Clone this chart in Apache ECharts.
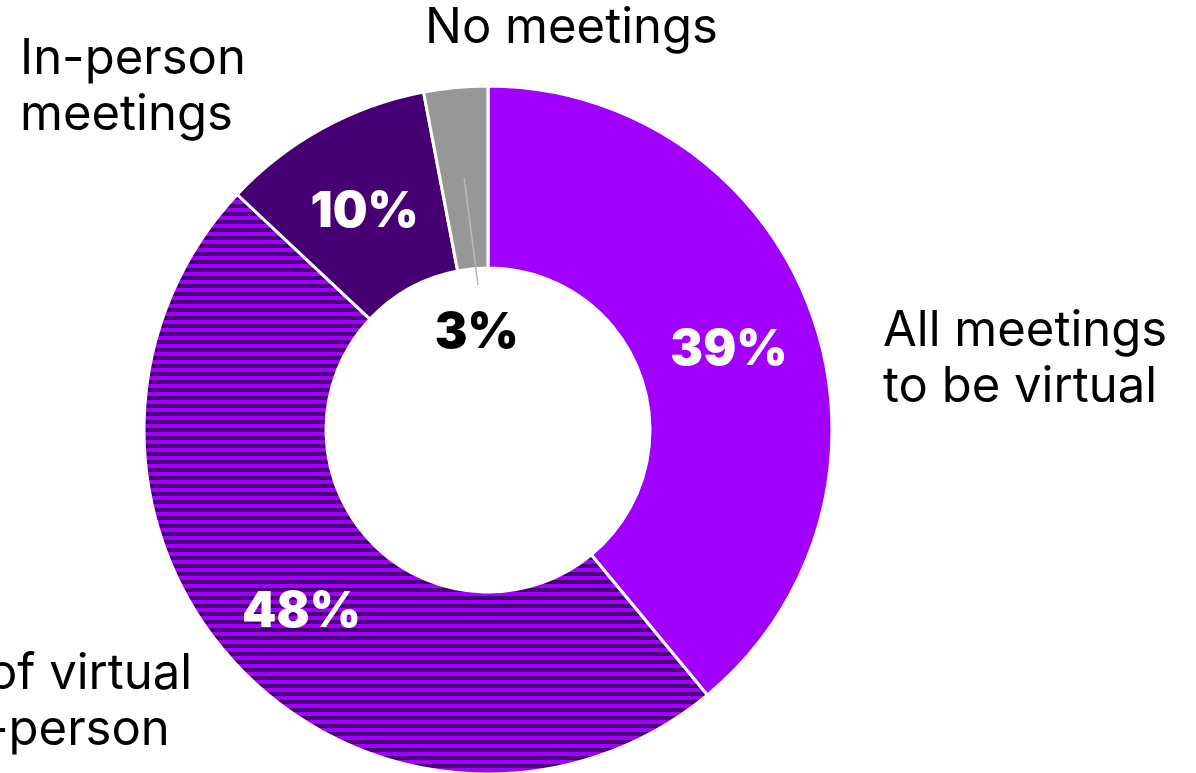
<!DOCTYPE html>
<html>
<head>
<meta charset="utf-8">
<script src="https://cdn.jsdelivr.net/npm/echarts@6/dist/echarts.min.js"></script>
<style>
  html, body { margin: 0; padding: 0; background: #fff; }
  #chart { width: 1196px; height: 773px; }
</style>
</head>
<body>
<div id="chart"></div>
<script>
// Share of respondents by expected meeting format
const categories = ['All meetings to be virtual', 'A mix of virtual and in-person', 'In-person meetings', 'No meetings'];
const shares = [39, 48, 10, 3];
const nameLabels = ['All meetings\nto be virtual', 'A mix of virtual\nand in-person', 'In-person\nmeetings', 'No meetings'];

const PURPLE = '#A100FF';
const DARK = '#460073';
const GREY = '#979797';

// Horizontal stripes for the "mix" slice
function stripePattern() {
  const c = document.createElement('canvas');
  c.width = 8; c.height = 8;
  const g = c.getContext('2d');
  g.fillStyle = PURPLE; g.fillRect(0, 0, 8, 8);
  g.fillStyle = DARK; g.fillRect(0, 4, 8, 4);
  return c;
}

const center = [488, 430];
const radius = [162, 344];
const FONT = 'Inter, "Noto Sans", sans-serif';

const fills = [PURPLE, { image: stripePattern(), repeat: 'repeat' }, DARK, GREY];

// mid-angle / mid-radius point of the last (small) slice, where its leader line starts
const total = shares.reduce((a, b) => a + b, 0);
const before = shares.slice(0, 3).reduce((a, b) => a + b, 0);
const midFrac = (before + shares[3] / 2) / total;
const theta = midFrac * 2 * Math.PI;           // clockwise from 12 o'clock
const midR = (radius[0] + radius[1]) / 2;
const anchor = [center[0] + midR * Math.sin(theta), center[1] - midR * Math.cos(theta)];
const smallLabelPos = [center[0] - 11, center[1] - 94];

const data = categories.map((name, i) => {
  const item = { name, value: shares[i], itemStyle: { color: fills[i] } };
  if (i === 3) {
    item.label = {
      color: '#000',
      offset: [smallLabelPos[0] - anchor[0], smallLabelPos[1] - anchor[1]]
    };
  }
  return item;
});

const chart = echarts.init(document.getElementById('chart'), null, { renderer: 'canvas' });

const nameText = (i, x, y) => ({
  type: 'text',
  x, y,
  silent: true,
  z: 10,
  style: {
    text: nameLabels[i],
    fill: '#000',
    font: '400 49px ' + FONT,
    lineHeight: 56,
    align: 'left',
    verticalAlign: 'top'
  }
});

chart.setOption({
  animation: false,
  backgroundColor: '#fff',
  series: [{
    type: 'pie',
    center,
    radius,
    startAngle: 90,
    clockwise: true,
    avoidLabelOverlap: false,
    silent: true,
    itemStyle: { borderColor: '#fff', borderWidth: 3 },
    label: {
      show: true,
      position: 'inside',
      formatter: '{c}%',
      color: '#fff',
      fontFamily: FONT,
      fontWeight: 900,
      fontSize: 49,
      offset: [0, 7]
    },
    labelLine: { show: false },
    data
  }],
  graphic: [
    {
      type: 'line',
      silent: true,
      z: 10,
      shape: { x1: anchor[0], y1: anchor[1], x2: center[0] - 10, y2: center[1] - 145 },
      style: { stroke: '#b8b8b8', lineWidth: 1.5 }
    },
    nameText(0, 883, 303),
    nameText(1, -155, 646),
    nameText(2, 20, 31),
    nameText(3, 425, 0)
  ]
});
</script>
</body>
</html>
